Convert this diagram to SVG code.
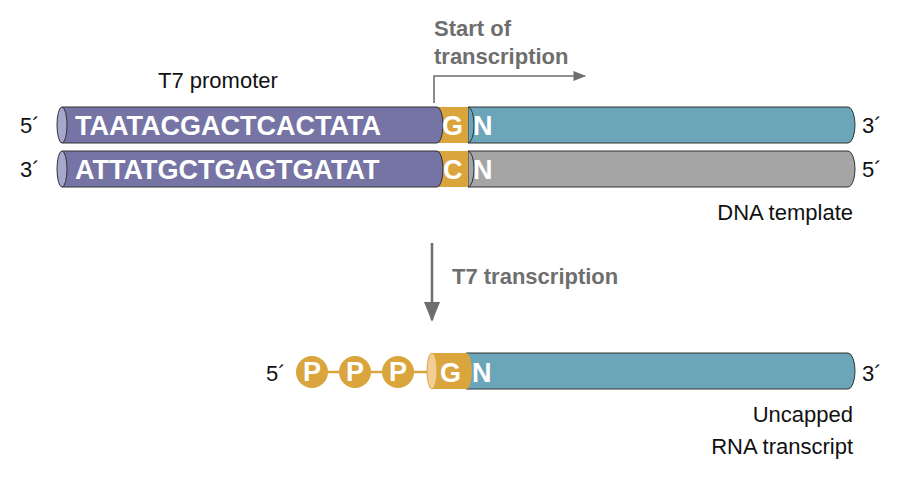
<svg xmlns="http://www.w3.org/2000/svg" width="900" height="488" viewBox="0 0 900 488">
<defs>
<style>
.t{font-family:"Liberation Sans",Arial,sans-serif;fill:#111;font-size:22px}
.g{font-family:"Liberation Sans",Arial,sans-serif;fill:#6e6e6e;font-size:22px;font-weight:bold}
.w{font-family:"Liberation Sans",Arial,sans-serif;fill:#fff;font-size:27px;font-weight:bold}
.st{stroke:#333;stroke-width:1}
</style>
<marker id="ah" viewBox="0 0 10 10" refX="9" refY="5" markerWidth="8" markerHeight="8" orient="auto"><path d="M0,1 L10,5 L0,9 z" fill="#6e6e6e"/></marker>
</defs>
<g id="dna-top">
<path d="M468,107 H848 A7,18 0 0 1 848,143 H468 Z" fill="#6ba5b9" class="st"/>
<rect x="437" y="107" width="31" height="36" fill="#d9a53c"/>
<path d="M62,107 H437 A6,18 0 0 1 437,143 H62 Z" fill="#7574a4" class="st"/>
<ellipse cx="62" cy="125" rx="5" ry="18" fill="#a7a6cc" class="st"/>
<path d="M468,107 A6,18 0 0 1 468,143" fill="none" class="st"/>
<text x="75" y="135" class="w">TAATACGACTCACTATA</text>
<text x="442" y="135" class="w">G</text>
<text x="473" y="135" class="w">N</text>
<text x="20" y="133" class="t">5´</text>
<text x="862" y="133" class="t">3´</text>
</g>
<g id="dna-bottom">
<path d="M468,151 H848 A7,18 0 0 1 848,187 H468 Z" fill="#a5a5a5" class="st"/>
<rect x="437" y="151" width="31" height="36" fill="#d9a53c"/>
<path d="M62,151 H437 A6,18 0 0 1 437,187 H62 Z" fill="#7574a4" class="st"/>
<ellipse cx="62" cy="169" rx="5" ry="18" fill="#a7a6cc" class="st"/>
<path d="M468,151 A6,18 0 0 1 468,187" fill="none" class="st"/>
<text x="75" y="179" class="w">ATTATGCTGAGTGATAT</text>
<text x="443" y="179" class="w">C</text>
<text x="473" y="179" class="w">N</text>
<text x="20" y="177" class="t">3´</text>
<text x="862" y="177" class="t">5´</text>
</g>
<g id="labels">
<text x="158" y="88" class="t">T7 promoter</text>
<text x="434" y="36" class="g" font-size="21">Start of</text>
<text x="434" y="64" class="g" font-size="21">transcription</text>
<text x="853" y="220" class="t" text-anchor="end">DNA template</text>
<text x="452" y="284" class="g">T7 transcription</text>
<text x="853" y="422" class="t" text-anchor="end">Uncapped</text>
<text x="853" y="454" class="t" text-anchor="end">RNA transcript</text>
</g>
<g id="rna">
<line x1="312" y1="372" x2="434" y2="372" stroke="#d9a53c" stroke-width="2.5"/>
<path d="M466,353 H848 A7,18 0 0 1 848,389 H466 Z" fill="#6ba5b9" class="st"/>
<path d="M432,353 H466 A6,18 0 0 1 466,389 H432 Z" fill="#d9a53c"/>
<ellipse cx="432" cy="371" rx="5" ry="18" fill="#f0ce95" stroke="#d9a53c"/>
<circle cx="312" cy="372" r="16" fill="#d9a53c"/>
<circle cx="355" cy="372" r="16" fill="#d9a53c"/>
<circle cx="398" cy="372" r="16" fill="#d9a53c"/>
<text x="312" y="381" class="w" font-size="24" text-anchor="middle">P</text>
<text x="355" y="381" class="w" font-size="24" text-anchor="middle">P</text>
<text x="398" y="381" class="w" font-size="24" text-anchor="middle">P</text>
<text x="440" y="382" class="w">G</text>
<text x="472" y="382" class="w">N</text>
<text x="266" y="381" class="t">5´</text>
<text x="862" y="381" class="t">3´</text>
</g>
<g id="connectors">
<path d="M434,103 V76 H585" fill="none" stroke="#6e6e6e" stroke-width="1.6" marker-end="url(#ah)"/>
<line x1="432" y1="243" x2="432" y2="320" stroke="#6e6e6e" stroke-width="2.5" marker-end="url(#ah)"/>
</g>
</svg>
